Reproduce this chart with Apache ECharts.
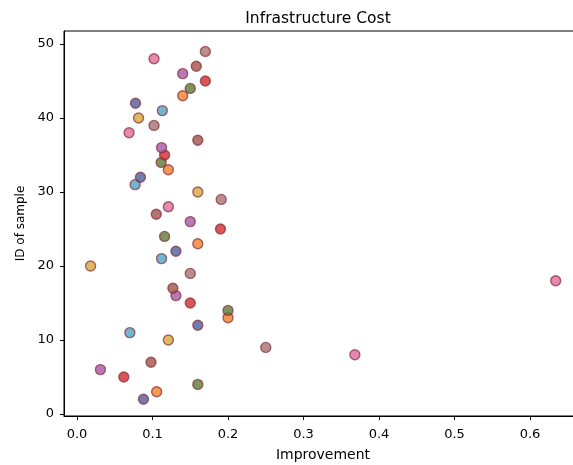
<!DOCTYPE html>
<html>
<head>
<meta charset="utf-8">
<script src="https://cdn.jsdelivr.net/npm/echarts@6/dist/echarts.min.js"></script>
<style>
  html, body { margin: 0; padding: 0; background: #fff; }
  #chart { width: 573px; height: 465px; }
</style>
</head>
<body>
<div id="chart"></div>
<script>
// Sample IDs and their improvement values
const sampleIds = [2, 3, 4, 5, 6, 7, 8, 9, 10, 11, 12, 13, 14, 15, 16, 17, 18, 19, 20, 21,
  22, 23, 24, 25, 26, 27, 28, 29, 30, 31, 32, 33, 34, 35, 36, 37, 38, 39, 40, 41,
  42, 43, 44, 45, 46, 47, 48, 49];
const improvement = [0.088, 0.1055, 0.160, 0.062, 0.031, 0.098, 0.368, 0.250, 0.121, 0.070,
  0.160, 0.200, 0.200, 0.150, 0.131, 0.127, 0.634, 0.150, 0.018, 0.112,
  0.131, 0.160, 0.116, 0.190, 0.150, 0.105, 0.121, 0.191, 0.160, 0.077,
  0.084, 0.121, 0.1115, 0.116, 0.112, 0.160, 0.069, 0.102, 0.0815, 0.113,
  0.0775, 0.140, 0.150, 0.170, 0.140, 0.158, 0.102, 0.170];

// Tick labels
const xTicks = [0.0, 0.1, 0.2, 0.3, 0.4, 0.5, 0.6];
const yTicks = [0, 10, 20, 30, 40, 50];

// Colour cycle applied point by point
const palette = ['#4e5c9a', '#f07f2a', '#5e7a35', '#d12a2a', '#a658a8',
  '#a0524a', '#e06c9e', '#a87272', '#d7a838', '#4fa3c6'];

const FONT = 'DejaVu Sans';

const points = sampleIds.map((id, i) => ({
  value: [improvement[i], id],
  itemStyle: {
    color: palette[i % palette.length],
    borderColor: 'rgba(130,40,50,0.85)',
    borderWidth: 1.4
  }
}));

const chart = echarts.init(document.getElementById('chart'));
chart.setOption({
  animation: false,
  backgroundColor: '#ffffff',
  title: {
    text: 'Infrastructure Cost',
    left: 313,
    top: 6,
    textAlign: 'center',
    textStyle: { fontFamily: FONT, fontSize: 15.5, fontWeight: 'normal', color: '#000' }
  },
  grid: {
    left: 64,
    top: 31,
    width: 518,
    height: 385,
    outerBoundsMode: 'none',
    containLabel: false,
    show: true,
    borderColor: '#000',
    borderWidth: 1,
    backgroundColor: 'transparent'
  },
  xAxis: {
    type: 'value',
    min: -0.0172,
    max: 0.6688,
    name: 'Improvement',
    nameLocation: 'middle',
    nameGap: 32,
    nameTextStyle: { fontFamily: FONT, fontSize: 14, color: '#000' },
    splitLine: { show: false },
    axisLine: { show: true, onZero: false, lineStyle: { color: '#000', width: 1 } },
    axisTick: { show: true, length: 4, lineStyle: { color: '#000' }, customValues: xTicks },
    axisLabel: {
      fontFamily: FONT, fontSize: 13, color: '#000', margin: 12,
      customValues: xTicks,
      formatter: v => v.toFixed(1)
    }
  },
  yAxis: {
    type: 'value',
    min: -0.27,
    max: 51.76,
    name: 'ID of sample',
    nameLocation: 'middle',
    nameGap: 37,
    nameRotate: 90,
    nameTextStyle: { fontFamily: FONT, fontSize: 12, color: '#000' },
    splitLine: { show: false },
    axisLine: { show: true, onZero: false, lineStyle: { color: '#000', width: 1 } },
    axisTick: { show: true, length: 4, lineStyle: { color: '#000' }, customValues: yTicks },
    axisLabel: {
      fontFamily: FONT, fontSize: 13, color: '#000', margin: 10,
      customValues: yTicks
    }
  },
  series: [{
    type: 'scatter',
    symbol: 'circle',
    symbolSize: 10,
    data: points
  }]
});
</script>
</body>
</html>
